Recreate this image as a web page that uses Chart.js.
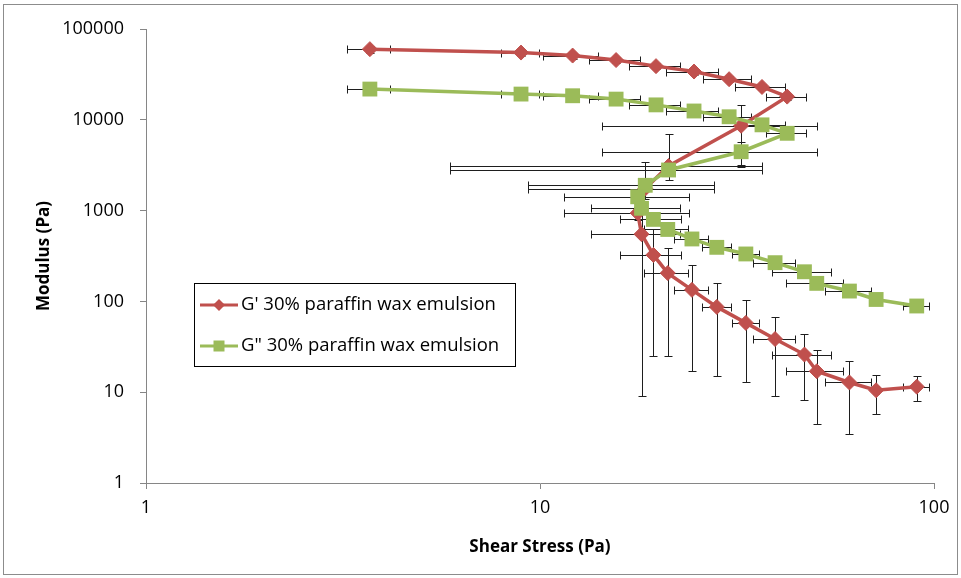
<!DOCTYPE html>
<html>
<head>
<meta charset="utf-8">
<title>Modulus vs shear stress</title>
<script src="https://cdn.jsdelivr.net/npm/chart.js@4.4.1/dist/chart.umd.min.js"></script>
<style>
  body { margin: 0; background: #fff; }
  canvas { display: block; }
</style>
</head>
<body>
<canvas id="myChart" width="961" height="578"></canvas>
<script>
// shear stress sweep (Pa), shared by both moduli
const shearStress = [3.70, 8.95, 12.1, 15.6, 19.7, 24.6, 30.2, 36.6, 42.4, 32.4, 21.2, 18.5, 17.7,
    18.1, 19.4, 21.1, 24.3, 28.1, 33.3, 39.5, 46.9, 50.4, 61.0, 71.3, 90.4];
const stressErr = [0.46, 1.0, 1.9, 2.3, 2.9, 3.7, 4.2, 5.3, 5.0, 18.0, 15.3, 9.2, 6.2,
    4.6, 3.4, 2.7, 2.4, 2.4, 2.6, 4.8, 8.0, 8.2, 8.2, 1.2, 7.0];

// G' storage modulus (Pa)
const storageMod = [60000, 55000, 51000, 45500, 39000, 34000, 28000, 23000, 18000, 8600, 3100, 1750, 940,
    550, 325, 205, 134, 87, 58, 38.5, 26, 17, 12.8, 10.5, 11.5];
const storageErrUp = [5000, 4500, 4000, 3500, 3000, 2700, 2200, 1800, 1400, 5900, 3880, 1700, 150,
    541, 300, 180, 117, 72, 45, 29.5, 17.7, 12.5, 9.3, 4.8, 3.4];
const storageErrDown = [5000, 4500, 4000, 3500, 3000, 2700, 2200, 1800, 1400, 5550, 950, 400, 150,
    541, 300, 180, 117, 72, 45, 29.5, 17.7, 12.5, 9.3, 4.8, 3.4];

// G'' loss modulus (Pa)
const lossMod = [21800, 19200, 18400, 16900, 14600, 12500, 10800, 8800, 7100, 4450, 2800, 1900, 1420,
    1060, 800, 620, 487, 394, 333, 267, 212, 158, 130, 105, 89];
const lossErr = [1200, 1000, 1000, 900, 800, 700, 600, 500, 400, 1300, 200, 100, 80,
    60, 45, 35, 27, 22, 18, 15, 12, 9, 7, 6, 5];

const legendNames = ["G' 30% paraffin wax emulsion", 'G" 30% paraffin wax emulsion'];

const FONT = '"Open Sans", "Liberation Sans", sans-serif';

function points(ys) {
    return ys.map((v, i) => ({ x: shearStress[i], y: v }));
}

// draws x and y error bars for every point, under the markers
const errorBars = {
    id: 'errorBars',
    beforeDatasetsDraw(chart) {
        const { ctx, scales: { x, y } } = chart;
        const cap = 4;
        ctx.save();
        ctx.strokeStyle = '#1e1e1e';
        ctx.lineWidth = 1;
        chart.data.datasets.forEach(ds => {
            ds.data.forEach((p, i) => {
                const px = Math.round(x.getPixelForValue(p.x)) + 0.5;
                const py = Math.round(y.getPixelForValue(p.y)) + 0.5;
                const xl = Math.round(x.getPixelForValue(p.x - ds.errX[i])) + 0.5;
                const xr = Math.round(x.getPixelForValue(p.x + ds.errX[i])) + 0.5;
                const yt = Math.round(y.getPixelForValue(p.y + ds.errUp[i])) + 0.5;
                const yb = Math.round(y.getPixelForValue(p.y - ds.errDown[i])) + 0.5;
                ctx.beginPath();
                ctx.moveTo(xl, py); ctx.lineTo(xr, py);
                ctx.moveTo(xl, py - cap); ctx.lineTo(xl, py + cap);
                ctx.moveTo(xr, py - cap); ctx.lineTo(xr, py + cap);
                ctx.moveTo(px, yt); ctx.lineTo(px, yb);
                ctx.moveTo(px - cap, yt); ctx.lineTo(px + cap, yt);
                ctx.moveTo(px - cap, yb); ctx.lineTo(px + cap, yb);
                ctx.stroke();
            });
        });
        ctx.restore();
    }
};

// boxed legend with line + marker samples, plus the outer frame
const boxLegend = {
    id: 'boxLegend',
    afterDraw(chart) {
        const ctx = chart.ctx;
        ctx.save();
        ctx.strokeStyle = '#8c8c8c';
        ctx.lineWidth = 1;
        ctx.strokeRect(3.5, 4.5, 954, 570);

        ctx.strokeStyle = '#000';
        ctx.strokeRect(194.5, 283.5, 321, 83);
        chart.data.datasets.forEach((ds, i) => {
            const cy = 305 + i * 41;
            ctx.strokeStyle = ds.borderColor;
            ctx.lineWidth = 3;
            ctx.beginPath();
            ctx.moveTo(200, cy); ctx.lineTo(238, cy);
            ctx.stroke();
            ctx.fillStyle = ds.backgroundColor;
            ctx.beginPath();
            if (ds.pointStyle === 'rectRot') {
                ctx.moveTo(219 - 6, cy); ctx.lineTo(219, cy - 6);
                ctx.lineTo(219 + 6, cy); ctx.lineTo(219, cy + 6);
            } else {
                ctx.rect(219 - 5.5, cy - 5.5, 11, 11);
            }
            ctx.closePath();
            ctx.fill();
            ctx.fillStyle = '#000';
            ctx.font = '18.5px ' + FONT;
            ctx.textBaseline = 'middle';
            ctx.fillText(legendNames[i], 241, cy);
        });
        ctx.restore();
    }
};

const decadesOnly = scale => {
    scale.ticks = scale.ticks.filter(t => Math.abs(Math.log10(t.value) % 1) < 1e-9);
};

const ctx = document.getElementById('myChart');

new Chart(ctx, {
    type: 'scatter',
    data: {
        datasets: [{
            label: legendNames[0],
            data: points(storageMod),
            errX: stressErr,
            errUp: storageErrUp,
            errDown: storageErrDown,
            showLine: true,
            borderColor: '#C0504D',
            backgroundColor: '#C0504D',
            borderWidth: 3.5,
            pointStyle: 'rectRot',
            pointRadius: 7.5,
            pointBorderWidth: 1,
            order: 1
        }, {
            label: legendNames[1],
            data: points(lossMod),
            errX: stressErr,
            errUp: lossErr,
            errDown: lossErr,
            showLine: true,
            borderColor: '#9BBB59',
            backgroundColor: '#9BBB59',
            borderWidth: 3.5,
            pointStyle: 'rect',
            pointRadius: 10.5,
            pointBorderWidth: 0,
            order: 0
        }]
    },
    options: {
        responsive: false,
        devicePixelRatio: 1,
        animation: false,
        layout: { padding: { left: 28, top: 29, right: 27, bottom: 8 } },
        plugins: {
            legend: { display: false },
            tooltip: { enabled: false }
        },
        scales: {
            x: {
                type: 'logarithmic',
                min: 1,
                max: 100,
                afterBuildTicks: decadesOnly,
                afterFit: s => { s.height = 87; },
                grid: { drawOnChartArea: false, tickLength: 6, color: '#868686' },
                border: { color: '#868686' },
                ticks: {
                    font: { size: 18, family: FONT },
                    color: '#000',
                    padding: 8,
                    maxRotation: 0,
                    callback: v => String(v)
                },
                title: {
                    display: true,
                    text: 'Shear Stress (Pa)',
                    font: { size: 17, weight: 'bold', family: FONT },
                    color: '#000',
                    padding: { bottom: 13 }
                }
            },
            y: {
                type: 'logarithmic',
                min: 1,
                max: 100000,
                afterBuildTicks: decadesOnly,
                afterFit: s => { s.width = 118; },
                grid: { drawOnChartArea: false, tickLength: 6, color: '#868686' },
                border: { color: '#868686' },
                ticks: {
                    font: { size: 18, family: FONT },
                    color: '#000',
                    padding: 16,
                    callback: v => String(v)
                },
                title: {
                    display: true,
                    text: 'Modulus (Pa)',
                    font: { size: 17, weight: 'bold', family: FONT },
                    color: '#000',
                    padding: { top: 6 }
                }
            }
        }
    },
    plugins: [errorBars, boxLegend]
});
</script>
</body>
</html>
